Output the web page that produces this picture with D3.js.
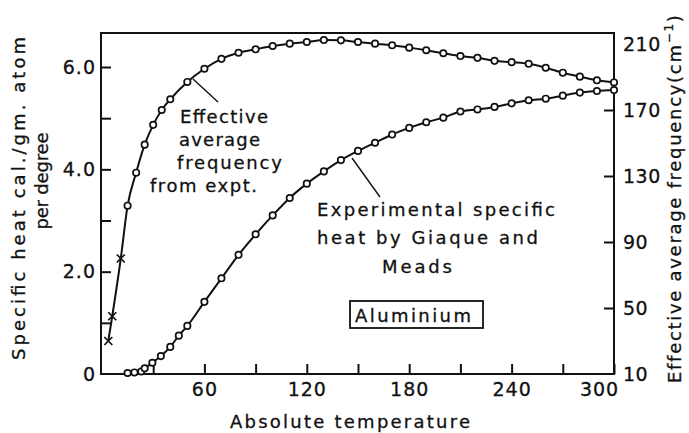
<!DOCTYPE html>
<html>
<head>
<meta charset="utf-8">
<script src="https://cdn.jsdelivr.net/npm/d3@7"></script>
<style>
  html, body { margin: 0; padding: 0; background: #fff; }
  svg { display: block; }
  text { font-family: "DejaVu Sans", sans-serif; fill: #111; stroke: #111; stroke-width: 0.3px; }
</style>
</head>
<body>
<svg id="chart" width="689" height="433"></svg>
<script>
// ---- Data ----
// Experimental specific heat (cal/gm.atom/degree) vs absolute temperature
const heatTemps  = [15, 19, 23, 25, 29.5, 34.5, 40, 45, 50, 60, 70, 80, 90, 100, 110, 120, 130, 140, 150, 160, 170, 180, 190, 200, 210, 220, 230, 240, 250, 260, 270, 280, 290, 300];
const heatValues = [0.02, 0.03, 0.05, 0.11, 0.22, 0.35, 0.53, 0.75, 0.94, 1.41, 1.87, 2.33, 2.73, 3.10, 3.44, 3.72, 3.96, 4.18, 4.36, 4.52, 4.68, 4.81, 4.92, 5.01, 5.13, 5.17, 5.22, 5.29, 5.35, 5.38, 5.44, 5.50, 5.53, 5.55];

// Effective average frequency (cm^-1) from experiment vs temperature
const freqTemps  = [15, 20, 25, 30, 35, 40, 50, 60, 70, 80, 90, 100, 110, 120, 130, 140, 150, 160, 170, 180, 190, 200, 210, 220, 230, 240, 250, 260, 270, 280, 290, 300];
const freqValues = [112, 132, 149, 161, 170, 176.5, 187, 195, 201, 204.7, 206.8, 208.8, 210.2, 211.2, 212.4, 212.2, 211.2, 210.2, 209.2, 207.8, 206.2, 204.4, 202.7, 201.6, 199.8, 199, 198, 195.6, 192.6, 190.2, 188, 186.7];

// Low-temperature frequency points marked with crosses
const crossTemps = [3.7, 6, 11];
const crossFreqs = [30, 45, 80];

// Tick values / labels
const xTickValues  = [30, 60, 90, 120, 150, 180, 210, 240, 270, 300];
const xTickLabels  = ["", "60", "", "120", "", "180", "", "240", "", "300"];
const leftTickValues = [0, 1, 2, 3, 4, 5, 6];
const leftTickLabels = ["0", "", "2.0", "", "4.0", "", "6.0"];
const rightTickValues = [10, 50, 90, 130, 170, 210];
const rightTickLabels = ["10", "50", "90", "130", "170", "210"];

// ---- Layout ----
const svg = d3.select("#chart");
const frameL = 101, frameR = 614, frameT = 33, frameB = 374;

const x  = d3.scaleLinear().domain([0, 300]).range([102, 614]);
const yL = d3.scaleLinear().domain([0, 6]).range([374, 67]);
const yR = d3.scaleLinear().domain([10, 210]).range([374, 44]);

const ink = "#111";

// Frame
svg.append("rect")
  .attr("x", frameL).attr("y", frameT)
  .attr("width", frameR - frameL).attr("height", frameB - frameT)
  .attr("fill", "none").attr("stroke", ink).attr("stroke-width", 2);

// Bottom axis (ticks inward)
const gx = svg.append("g").attr("transform", `translate(0,${frameB})`)
  .call(d3.axisBottom(x).tickValues(xTickValues).tickSizeInner(-10).tickSizeOuter(0)
    .tickPadding(9).tickFormat((d, i) => xTickLabels[i]));
gx.select(".domain").remove();
gx.selectAll(".tick line").attr("stroke", ink).attr("stroke-width", 2);
gx.selectAll(".tick text").attr("font-size", 19).attr("letter-spacing", 1).attr("fill", ink)
  .attr("font-family", "DejaVu Sans, sans-serif")
  .attr("dx", d => d === 300 ? -15 : 0);

// Left axis
const gl = svg.append("g").attr("transform", `translate(${frameL},0)`)
  .call(d3.axisLeft(yL).tickValues(leftTickValues).tickSizeInner(-10).tickSizeOuter(0)
    .tickPadding(5).tickFormat((d, i) => leftTickLabels[i]));
gl.select(".domain").remove();
gl.selectAll(".tick line").attr("stroke", ink).attr("stroke-width", 2)
  .attr("display", d => d === 0 ? "none" : null);
gl.selectAll(".tick text").attr("font-size", 19).attr("letter-spacing", 1).attr("fill", ink)
  .attr("font-family", "DejaVu Sans, sans-serif");

// Right axis
const gr = svg.append("g").attr("transform", `translate(${frameR},0)`)
  .call(d3.axisRight(yR).tickValues(rightTickValues).tickSizeInner(-10).tickSizeOuter(0)
    .tickPadding(9).tickFormat((d, i) => rightTickLabels[i]));
gr.select(".domain").remove();
gr.selectAll(".tick line").attr("stroke", ink).attr("stroke-width", 2)
  .attr("display", d => (d === 10 || d === 210) ? "none" : null);
gr.selectAll(".tick text").attr("font-size", 19).attr("letter-spacing", 0.5).attr("fill", ink)
  .attr("font-family", "DejaVu Sans, sans-serif");

// Axis titles
svg.append("text")
  .attr("x", 350).attr("y", 428).attr("text-anchor", "middle")
  .attr("font-size", 18).attr("textLength", 240).attr("lengthAdjust", "spacing")
  .text("Absolute temperature");

svg.append("text")
  .attr("transform", "translate(25,198.5) rotate(-90)")
  .attr("text-anchor", "middle").attr("font-size", 18)
  .attr("textLength", 323).attr("lengthAdjust", "spacing")
  .text("Specific heat cal./gm. atom");
svg.append("text")
  .attr("transform", "translate(48,181) rotate(-90)")
  .attr("text-anchor", "middle").attr("font-size", 18)
  .attr("textLength", 97).attr("lengthAdjust", "spacing")
  .text("per degree");

const rt = svg.append("text")
  .attr("transform", "translate(681,383) rotate(-90)")
  .attr("text-anchor", "start").attr("font-size", 18).attr("letter-spacing", 1.7);
rt.append("tspan").text("Effective average frequency(cm");
rt.append("tspan").attr("font-size", 12).attr("dy", -8).text("−1");
rt.append("tspan").attr("dy", 8).text(")");

// Lines
const lineHeat = d3.line().x(d => x(d[0])).y(d => yL(d[1])).curve(d3.curveMonotoneX);
const lineFreq = d3.line().x(d => x(d[0])).y(d => yR(d[1])).curve(d3.curveMonotoneX);

const heatPts = heatTemps.map((t, i) => [t, heatValues[i]]);
const freqPts = freqTemps.map((t, i) => [t, freqValues[i]]);
const crossPts = crossTemps.map((t, i) => [t, crossFreqs[i]]);

svg.append("path").attr("d", lineHeat(heatPts))
  .attr("fill", "none").attr("stroke", ink).attr("stroke-width", 2);
svg.append("path").attr("d", lineFreq(crossPts.concat(freqPts)))
  .attr("fill", "none").attr("stroke", ink).attr("stroke-width", 2);

// Circles
svg.append("g").selectAll("circle").data(heatPts).join("circle")
  .attr("cx", d => x(d[0])).attr("cy", d => yL(d[1])).attr("r", 3.2)
  .attr("fill", "#fff").attr("stroke", ink).attr("stroke-width", 1.7);
svg.append("g").selectAll("circle").data(freqPts).join("circle")
  .attr("cx", d => x(d[0])).attr("cy", d => yR(d[1])).attr("r", 3.2)
  .attr("fill", "#fff").attr("stroke", ink).attr("stroke-width", 1.7);

// Crosses
const cs = 4;
svg.append("g").selectAll("path").data(crossPts).join("path")
  .attr("d", d => {
    const cx = x(d[0]), cy = yR(d[1]);
    return `M${cx - cs},${cy - cs}L${cx + cs},${cy + cs}M${cx - cs},${cy + cs}L${cx + cs},${cy - cs}`;
  })
  .attr("stroke", ink).attr("stroke-width", 1.7).attr("fill", "none");

// Annotations
svg.append("line").attr("x1", 193).attr("y1", 79).attr("x2", 218).attr("y2", 102)
  .attr("stroke", ink).attr("stroke-width", 1.4);
const ann1 = [
  { t: "Effective", x: 180, y: 123, w: 88 },
  { t: "average", x: 179, y: 146, w: 81 },
  { t: "frequency", x: 177, y: 169, w: 105 },
  { t: "from expt.", x: 150, y: 192, w: 107 }
];
svg.append("g").selectAll("text").data(ann1).join("text")
  .attr("x", d => d.x).attr("y", d => d.y).attr("font-size", 18)
  .attr("textLength", d => d.w).attr("lengthAdjust", "spacing").text(d => d.t);

svg.append("line").attr("x1", 352).attr("y1", 158).attr("x2", 380).attr("y2", 197)
  .attr("stroke", ink).attr("stroke-width", 1.4);
const ann2 = [
  { t: "Experimental specific", x: 317, y: 216, w: 238 },
  { t: "heat by Giaque and", x: 317, y: 244, w: 221 },
  { t: "Meads", x: 382, y: 273, w: 70 }
];
svg.append("g").selectAll("text").data(ann2).join("text")
  .attr("x", d => d.x).attr("y", d => d.y).attr("font-size", 18)
  .attr("textLength", d => d.w).attr("lengthAdjust", "spacing").text(d => d.t);

// Aluminium box
svg.append("rect").attr("x", 350).attr("y", 301).attr("width", 133).attr("height", 27)
  .attr("fill", "none").attr("stroke", ink).attr("stroke-width", 1.8);
svg.append("text").attr("x", 355).attr("y", 322).attr("font-size", 18)
  .attr("textLength", 116).attr("lengthAdjust", "spacing").text("Aluminium");
</script>
</body>
</html>
